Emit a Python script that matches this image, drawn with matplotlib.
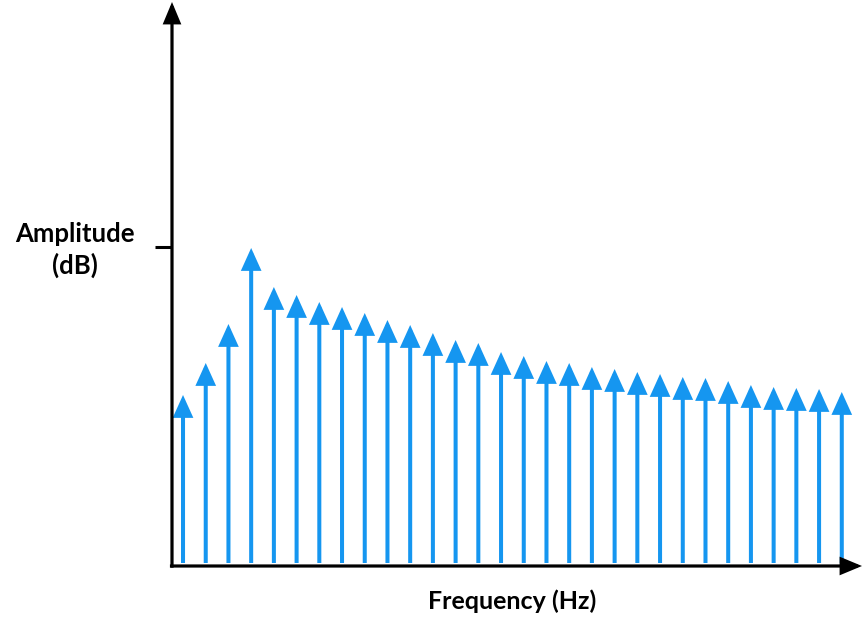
import matplotlib
matplotlib.use("Agg")
import matplotlib.pyplot as plt

# harmonic index and stem heights (arbitrary amplitude units)
harmonics = list(range(1, 31))
amplitude = [17.1, 20.3, 24.2, 31.8, 27.9, 27.1, 26.4, 25.9, 25.3, 24.6,
             24.1, 23.3, 22.6, 22.3, 21.4, 21.0, 20.5, 20.3, 19.9, 19.7,
             19.4, 19.2, 18.9, 18.8, 18.5, 18.1, 17.9, 17.8, 17.7, 17.4]
tick_level = 31.9

stem_color = "#1596F0"
plt.rcParams["font.family"] = ["Lato", "DejaVu Sans"]

fig = plt.figure(figsize=(8.64, 6.3), dpi=100)
ax = fig.add_axes([172 / 864, 64 / 630, 690 / 864, 564 / 630])
ax.set_xlim(0.515, 30.89)
ax.set_ylim(0, 56.4)

for s in ax.spines.values():
    s.set_visible(False)

# stems with arrow heads
for h, a in zip(harmonics, amplitude):
    ax.annotate("", xy=(h, a), xytext=(h, 0.3),
                arrowprops=dict(arrowstyle="-|>,head_length=1.15,head_width=0.52",
                                color=stem_color, lw=2.9, joinstyle="miter",
                                capstyle="butt", shrinkA=0, shrinkB=0))

# axis arrows
axis_kw = dict(arrowstyle="-|>,head_length=1.2,head_width=0.5",
               color="black", lw=2.3, joinstyle="miter", capstyle="butt",
               shrinkA=0, shrinkB=0)
ax.annotate("", xy=(0, 1.0), xytext=(0, -0.003), xycoords="axes fraction",
            textcoords="axes fraction", arrowprops=axis_kw, annotation_clip=False)
ax.annotate("", xy=(1.0, 0), xytext=(-0.003, 0), xycoords="axes fraction",
            textcoords="axes fraction", arrowprops=axis_kw, annotation_clip=False)

ax.set_xticks([])
ax.set_yticks([tick_level])
ax.set_yticklabels([""])
ax.tick_params(axis="y", length=12, width=2.2, color="black")

fig.text(75 / 864, 1 - 250 / 630, "Amplitude\n(dB)", ha="center", va="center",
         fontsize=18.5, fontweight="bold", linespacing=1.35)
fig.text(512 / 864, 1 - 601 / 630, "Frequency (Hz)", ha="center", va="center",
         fontsize=18, fontweight="bold")

fig.savefig("out.png", dpi=100, facecolor="white")
